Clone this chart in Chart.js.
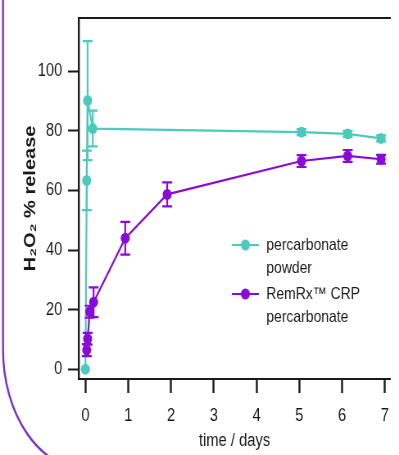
<!DOCTYPE html>
<html>
<head>
<meta charset="utf-8">
<script src="https://cdn.jsdelivr.net/npm/chart.js@4.4.1/dist/chart.umd.min.js"></script>
<style>
  html, body { margin: 0; padding: 0; background: #fff; }
</style>
</head>
<body>
<!-- drawn 487px wide, then squeezed to 399px like the source figure -->
<canvas id="chart" width="487" height="455" style="display:block;width:399px;height:455px"></canvas>
<script>
const powderDays = [0, 0.03, 0.05, 0.17, 5.05, 6.13, 6.91];
const powderRelease = [0, 63.4, 90.2, 80.8, 79.6, 79.0, 77.5];
const powderError = [0, 10, 20, 6, 1, 1, 1];

const crpDays = [0.03, 0.05, 0.1, 0.19, 0.93, 1.91, 5.05, 6.13, 6.91];
const crpRelease = [6.4, 10.2, 19.3, 22.5, 44.0, 58.7, 69.9, 71.6, 70.5];
const crpError = [2, 2, 2, 5, 5.5, 4, 2, 2, 1.5];

const xTicks = [0, 1, 2, 3, 4, 5, 6, 7];
const yTicks = [0, 20, 40, 60, 80, 100];
const seriesLabels = ["percarbonate\npowder", "RemRx\u2122 CRP\npercarbonate"];

const TEAL = "#4ccabd";
const PURPLE = "#8a0bd8";
const INK = "#1a1a1a";
const FONT = "'Liberation Sans', Arial, sans-serif";

Chart.defaults.font.family = FONT;
Chart.defaults.color = INK;

const toPoints = (xs, ys) => xs.map((x, i) => ({ x, y: ys[i] }));

// vertical error bars with caps, placed through the chart scales
const errorBars = {
    id: "errorBars",
    afterDatasetsDraw(chart) {
        const { ctx, scales: { x, y } } = chart;
        chart.data.datasets.forEach(ds => {
            ctx.save();
            ctx.strokeStyle = ds.borderColor;
            ctx.lineWidth = 2.2;
            ds.data.forEach((p, i) => {
                const e = ds.errors[i];
                if (!e) return;
                const px = x.getPixelForValue(p.x);
                const top = y.getPixelForValue(p.y + e);
                const bot = y.getPixelForValue(p.y - e);
                ctx.beginPath();
                ctx.moveTo(px, top); ctx.lineTo(px, bot);
                ctx.moveTo(px - 6, top); ctx.lineTo(px + 6, top);
                ctx.moveTo(px - 6, bot); ctx.lineTo(px + 6, bot);
                ctx.stroke();
            });
            ctx.restore();
        });
    }
};

// purple rounded frame of the source slide
const slideFrame = {
    id: "slideFrame",
    beforeDraw(chart) {
        const ctx = chart.ctx;
        ctx.save();
        ctx.strokeStyle = "#7b30c8";
        ctx.lineWidth = 2.4;
        ctx.beginPath();
        ctx.moveTo(3.7, 0);
        ctx.lineTo(3.7, 350);
        ctx.ellipse(107.4, 350, 103.7, 120, 0, Math.PI, Math.PI / 2, true);
        ctx.lineTo(700, 470);
        ctx.stroke();
        ctx.restore();
    }
};

// legend sitting inside the plot, with two-line labels
const insideLegend = {
    id: "insideLegend",
    afterDraw(chart) {
        const ctx = chart.ctx;
        ctx.save();
        ctx.font = "17px " + FONT;
        ctx.textBaseline = "middle";
        chart.data.datasets.forEach((ds, i) => {
            const y0 = 245 + i * 49;
            ctx.strokeStyle = ds.borderColor;
            ctx.lineWidth = 2;
            ctx.beginPath();
            ctx.moveTo(283, y0); ctx.lineTo(316, y0);
            ctx.stroke();
            ctx.fillStyle = ds.borderColor;
            ctx.beginPath();
            ctx.arc(299.5, y0, 5.5, 0, Math.PI * 2);
            ctx.fill();
            ctx.fillStyle = INK;
            ds.label.split("\n").forEach((line, k) => {
                ctx.fillText(line, 325, y0 + k * 23);
            });
        });
        ctx.restore();
    }
};

new Chart(document.getElementById("chart"), {
    type: "scatter",
    data: {
        datasets: [
            {
                label: seriesLabels[0],
                data: toPoints(powderDays, powderRelease),
                errors: powderError,
                borderColor: TEAL,
                backgroundColor: TEAL,
                order: 1
            },
            {
                label: seriesLabels[1],
                data: toPoints(crpDays, crpRelease),
                errors: crpError,
                borderColor: PURPLE,
                backgroundColor: PURPLE,
                order: 0
            }
        ]
    },
    options: {
        responsive: false,
        animation: false,
        devicePixelRatio: 1,
        layout: { padding: { top: 8, right: 0, left: 0, bottom: 0 } },
        elements: {
            line: { borderWidth: 2.2, tension: 0 },
            point: { radius: 5.5, borderWidth: 0, hoverRadius: 5.5 }
        },
        datasets: { scatter: { showLine: true } },
        plugins: { legend: { display: false }, tooltip: { enabled: false } },
        scales: {
            x: {
                type: "linear",
                min: -0.159,
                max: 7.13,
                afterBuildTicks: s => { s.ticks = xTicks.map(v => ({ value: v })); },
                afterFit: s => { s.height = 76; },
                ticks: { font: { size: 18 }, color: INK, padding: 12, maxRotation: 0, autoSkip: false },
                grid: { drawOnChartArea: false, tickLength: 14, tickWidth: 2.4, tickColor: INK },
                border: { color: INK, width: 2 },
                title: { display: true, text: "time / days", font: { size: 18 }, color: INK, padding: { top: 3, bottom: 3 } }
            },
            top: {
                type: "linear",
                position: "top",
                min: -0.159,
                max: 7.13,
                afterFit: s => { s.height = 0; },
                ticks: { display: false },
                grid: { drawOnChartArea: false, drawTicks: false },
                border: { color: INK, width: 2 }
            },
            y: {
                min: -3.3,
                max: 118,
                afterBuildTicks: s => { s.ticks = yTicks.map(v => ({ value: v })); },
                afterFit: s => { s.width = 96; },
                ticks: { font: { size: 18 }, color: INK, padding: 7 },
                grid: { drawOnChartArea: false, tickLength: 13, tickWidth: 2, tickColor: INK },
                border: { color: INK, width: 2.4 },
                title: {
                    display: true,
                    text: "H\u2082O\u2082 % release",
                    font: { size: 20, weight: "bold" },
                    color: INK,
                    padding: { top: 25, bottom: 0 }
                }
            }
        }
    },
    plugins: [slideFrame, errorBars, insideLegend]
});
</script>
</body>
</html>
